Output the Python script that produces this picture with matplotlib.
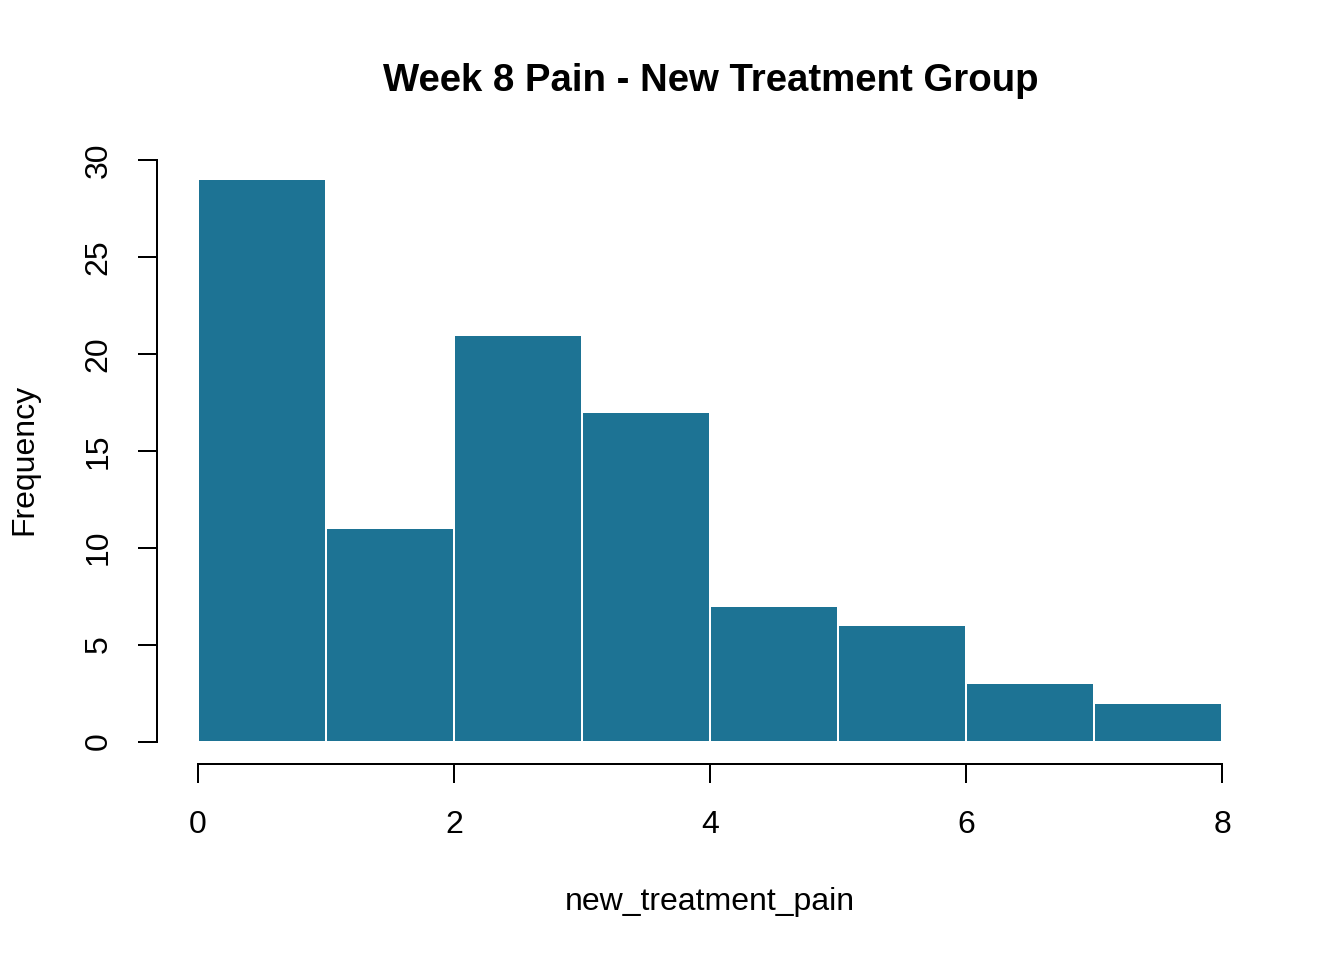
import numpy as np
import matplotlib
matplotlib.use("Agg")
import matplotlib.pyplot as plt

plt.rcParams['font.family'] = ['Liberation Sans', 'DejaVu Sans']

# histogram of new_treatment_pain, bins of width 1
bin_edges = [0, 1, 2, 3, 4, 5, 6, 7, 8]
counts = [29, 11, 21, 17, 7, 6, 3, 2]
x_ticks = [0, 2, 4, 6, 8]
y_ticks = [0, 5, 10, 15, 20, 25, 30]

W, H = 1344, 960
fig = plt.figure(figsize=(7, 5), dpi=192)
ax = fig.add_axes([157 / W, 1 - 764 / H, (1263 - 157) / W, (764 - 157) / H])

lefts = np.array(bin_edges[:-1])
widths = np.diff(bin_edges)
ax.bar(lefts, counts, width=widths, align='edge', color='#1d7394',
       edgecolor='white', linewidth=0.75)

ax.set_xlim(-0.32, 8.32)
ax.set_ylim(-1.16, 30.16)

for side in ['top', 'right']:
    ax.spines[side].set_visible(False)
ax.spines['left'].set_bounds(0, 30)
ax.spines['bottom'].set_bounds(0, 8)
for side in ['left', 'bottom']:
    ax.spines[side].set_linewidth(0.75)

ax.set_xticks(x_ticks)
ax.set_yticks(y_ticks)
ax.tick_params(axis='x', direction='out', length=7.2, width=0.75,
               labelsize=12, pad=10)
ax.tick_params(axis='y', direction='out', length=7.2, width=0.75,
               labelsize=12, pad=9)
plt.setp(ax.get_yticklabels(), rotation=90, va='center')

fig.text(0.529, 1 - 81 / H, 'Week 8 Pain - New Treatment Group',
         ha='center', va='center', fontsize=14.4, fontweight='bold')
fig.text(0.528, 1 - 902 / H, 'new_treatment_pain', ha='center', va='center',
         fontsize=12)
fig.text(24 / W, 0.521, 'Frequency', ha='center', va='center',
         rotation=90, fontsize=12)

fig.savefig('out.png', dpi=192)
